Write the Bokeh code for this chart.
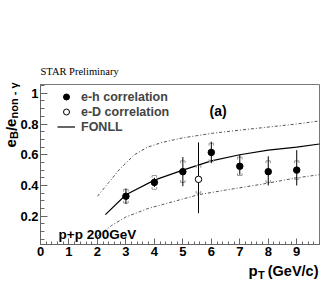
import numpy as np
from bokeh.plotting import figure
from bokeh.models import (Label, Legend, LegendItem, FixedTicker, Range1d)
from bokeh.embed import file_html
from bokeh.resources import INLINE

# ---- data ----
eh_pt = [3, 4, 5, 6, 7, 8, 9]
eh_ratio = [0.33, 0.42, 0.49, 0.615, 0.525, 0.49, 0.50]
eh_stat_up = [0.05, 0.03, 0.095, 0.07, 0.075, 0.10, 0.13]
eh_stat_dn = [0.05, 0.03, 0.095, 0.07, 0.055, 0.09, 0.10]
eh_sys = [0.045, 0.045, 0.07, 0.06, 0.06, 0.07, 0.06]

ed_pt = [5.55]
ed_ratio = [0.44]
ed_err_up = [0.24]
ed_err_dn = [0.22]
ed_sys = [0.09]

fonll_pt = [2.28, 3, 4, 5, 6, 7, 8, 9, 9.8]
fonll_c = [0.21, 0.34, 0.435, 0.50, 0.56, 0.60, 0.63, 0.65, 0.67]
fonll_up_pt = [2.0, 2.4, 2.8, 3.3, 3.77, 4.27, 5, 6.05, 7, 8, 9, 9.8]
fonll_up = [0.33, 0.42, 0.51, 0.60, 0.65, 0.68, 0.71, 0.74, 0.76, 0.78, 0.80, 0.82]
fonll_lo_pt = [2.0, 2.5, 3, 3.77, 4.27, 5.55, 6.5, 7.83, 9, 9.8]
fonll_lo = [0.07, 0.14, 0.195, 0.25, 0.275, 0.34, 0.37, 0.41, 0.45, 0.47]

x_ticks = [0, 1, 2, 3, 4, 5, 6, 7, 8, 9]
y_ticks = [0.2, 0.4, 0.6, 0.8, 1.0]
y_tick_labels = ["0.2", "0.4", "0.6", "0.8", "1"]

# axis extents of the plot box
X_MIN, X_MAX = 0.0, 9.8
Y_MIN, Y_MAX = 0.016, 1.057

FONT = "Liberation Sans"
W, H = 322, 283
BOX_L, BOX_R, BOX_T, BOX_B = 40, 319, 84, 244   # pixel placement of the box
sx = (BOX_R - BOX_L) / (X_MAX - X_MIN)
sy = (BOX_B - BOX_T) / (Y_MAX - Y_MIN)
xr = Range1d(X_MIN - BOX_L / sx, X_MAX + (W - BOX_R) / sx)
yr = Range1d(Y_MIN - (H - BOX_B) / sy, Y_MAX + BOX_T / sy)

p = figure(width=W, height=H, output_backend="svg", toolbar_location=None,
           x_range=xr, y_range=yr,
           min_border_left=0, min_border_right=0, min_border_top=0, min_border_bottom=0)
p.xgrid.visible = False
p.ygrid.visible = False
p.outline_line_color = None
p.background_fill_color = "white"
p.border_fill_color = "white"

for ax in (p.xaxis[0], p.yaxis[0]):
    ax.axis_line_color = "#666666"
    ax.major_tick_line_color = "#666666"
    ax.minor_tick_line_color = "#666666"
    ax.major_tick_out = 0
    ax.minor_tick_out = 0
    ax.major_label_text_font = FONT
    ax.major_label_text_font_style = "bold"
    ax.major_label_text_font_size = "13px"
    ax.major_label_text_color = "black"
    ax.major_label_standoff = 2

p.xaxis.fixed_location = Y_MIN
p.xaxis.bounds = (X_MIN, X_MAX)
p.yaxis.fixed_location = X_MIN
p.yaxis.bounds = (Y_MIN, Y_MAX)

p.xaxis.ticker = FixedTicker(ticks=x_ticks,
                             minor_ticks=[round(0.2 * i, 2) for i in range(0, 50)])
p.xaxis.major_tick_in = 6
p.xaxis.minor_tick_in = 3
p.yaxis.ticker = FixedTicker(ticks=y_ticks,
                             minor_ticks=[round(0.05 * i, 2) for i in range(1, 22)])
p.yaxis.major_label_overrides = {v: s for v, s in zip(y_ticks, y_tick_labels)}
p.yaxis.major_tick_in = 7
p.yaxis.minor_tick_in = 4

# plot box outline
p.quad(left=[X_MIN], right=[X_MAX], bottom=[Y_MIN], top=[Y_MAX],
       fill_color=None, line_color="#777777", line_width=1)

# FONLL band lines
p.line(fonll_up_pt, fonll_up, line_color="#555555", line_width=1, line_dash="3 2 1 2")
p.line(fonll_lo_pt, fonll_lo, line_color="#555555", line_width=1, line_dash="3 2 1 2")
r_fonll = p.line(fonll_pt, fonll_c, line_color="black", line_width=1.2)

# systematic brackets (gray)
def sys_brackets(xs, ys, ss, hw=0.08, tick=0.015):
    x0, x1, y0, y1 = [], [], [], []
    for x, y, s in zip(xs, ys, ss):
        for sgn in (1, -1):
            yc = y + sgn * s
            x0.append(x - hw); x1.append(x + hw); y0.append(yc); y1.append(yc)
            for xe in (x - hw, x + hw):
                x0.append(xe); x1.append(xe); y0.append(yc); y1.append(yc - sgn * tick)
    p.segment(x0=x0, y0=y0, x1=x1, y1=y1, line_color="#999999", line_width=1)

sys_brackets(eh_pt, eh_ratio, eh_sys)
sys_brackets(ed_pt, ed_ratio, ed_sys)

# stat error bars
p.segment(x0=eh_pt, x1=eh_pt,
          y0=[y - d for y, d in zip(eh_ratio, eh_stat_dn)],
          y1=[y + u for y, u in zip(eh_ratio, eh_stat_up)],
          line_color="black", line_width=1)
p.segment(x0=ed_pt, x1=ed_pt,
          y0=[y - d for y, d in zip(ed_ratio, ed_err_dn)],
          y1=[y + u for y, u in zip(ed_ratio, ed_err_up)],
          line_color="black", line_width=1)

r_eh = p.scatter(eh_pt, eh_ratio, marker="circle", size=6.5, fill_color="black", line_color="black")
r_ed = p.scatter(ed_pt, ed_ratio, marker="circle", size=6.5, fill_color="white", line_color="black",
                 line_width=1)

legend = Legend(items=[LegendItem(label="e-h correlation", renderers=[r_eh]),
                       LegendItem(label="e-D correlation", renderers=[r_ed]),
                       LegendItem(label="FONLL", renderers=[r_fonll])],
                location=(57, 149), padding=0, margin=0, spacing=0,
                glyph_width=18, glyph_height=15, label_height=15, label_standoff=6,
                border_line_color=None, background_fill_alpha=0,
                label_text_font=FONT, label_text_font_style="bold",
                label_text_font_size="12.5px", label_text_baseline="middle")
p.add_layout(legend)

def lab(xa, ya, text, size, style="bold", font=FONT, angle=0.0, align="left"):
    # xa, ya: canvas pixel position (from top-left) of the text anchor
    p.add_layout(Label(x=xa, y=H - ya, x_units="screen", y_units="screen", text=text,
                       text_font=font, text_font_style=style, text_font_size=size,
                       text_color="black", angle=angle, text_align=align,
                       text_baseline="alphabetic"))

lab(40, 71, "STAR Preliminary", "10.5px", style="normal", font="Liberation Serif")
lab(209, 110, "(a)", "14px")
lab(58, 234, "p+p 200GeV", "13.5px")

# y axis title e_B / e_non-γ (rotated)
A = np.pi / 2
lab(10.5, 147, "e", "15px", angle=A)
lab(13.5, 138.5, "B", "11px", angle=A)
lab(10.5, 130.6, "/", "15px", angle=A)
lab(10.5, 126.4, "e", "15px", angle=A)
lab(13.5, 118, "non - γ", "11px", angle=A)

# x axis title p_T (GeV/c)
lab(248, 270, "p", "15px")
lab(257.5, 274, "T", "11px")
lab(318, 270, "(GeV/c)", "14.5px", align="right")

open("out.html", "w").write(file_html(p, INLINE))
